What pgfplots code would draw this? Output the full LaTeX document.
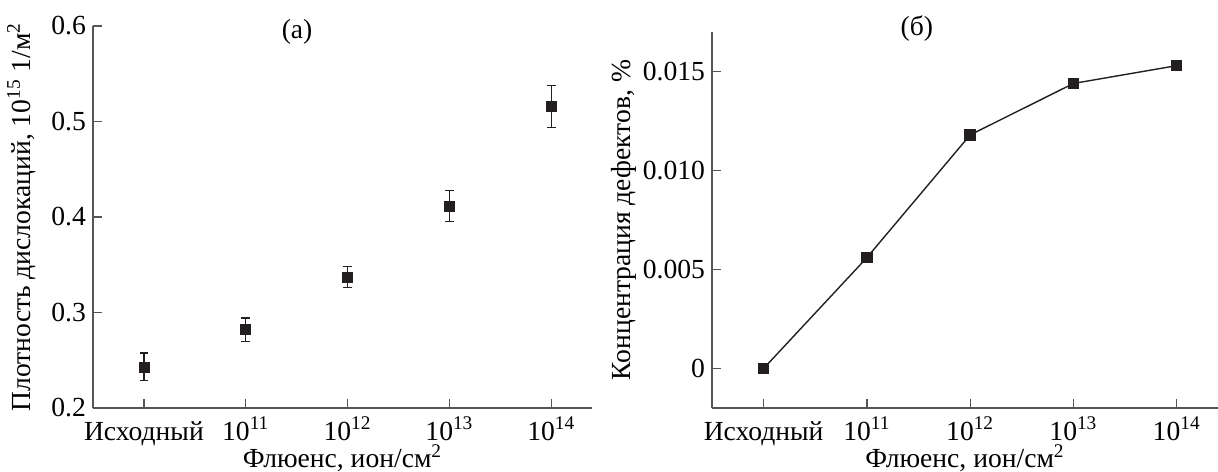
\documentclass[border=0pt]{standalone}
\usepackage{fontspec}
\setmainfont{Liberation Serif}
\usepackage{pgfplots}
\pgfplotsset{compat=1.18}
\definecolor{axgray}{HTML}{555555}
\definecolor{mk}{HTML}{231F20}
\pgfplotsset{
  mystyle/.style={
    scale only axis,
    anchor=south west,
    axis x line*=bottom,
    axis y line*=left,
    axis line style={draw=axgray, line width=0.7pt},
    tick align=inside,
    major tick length=4.5pt,
    tick style={draw=axgray, line width=0.6pt},
    xmin=-0.5, xmax=4.4,
    xtick={0,1,2,3,4},
    xticklabels={Исходный,10\textsuperscript{11},10\textsuperscript{12},10\textsuperscript{13},10\textsuperscript{14}},
    ticklabel style={font=\fontsize{13.8}{16}\selectfont, text=black},
    xticklabel style={anchor=base, inner sep=0pt, yshift=-16pt},
    label style={font=\fontsize{13.8}{16}\selectfont, text=black},
    xlabel={Флюенс, ион/см\textsuperscript{2}},
    xlabel style={at={(axis description cs:0.5,0)}, anchor=base, inner sep=0pt, yshift=-29.8pt},
    scaled y ticks=false,
    clip=false,
  }
}
\begin{document}
\begin{tikzpicture}
\path[use as bounding box] (0,0) rectangle (609pt,-235.5pt);
\begin{axis}[mystyle,
  at={(46.5pt,-204pt)}, width=249.5pt, height=191pt,
  ymin=0.2, ymax=0.6,
  ytick={0.2,0.3,0.4,0.5,0.6},
  yticklabels={0.2,0.3,0.4,0.5,0.6},
  ylabel={Плотность дислокаций, 10\textsuperscript{15} 1/м\textsuperscript{2}},
  ylabel style={yshift=1pt},
]
\addplot[only marks, mark=square*, mark size=2.5pt, color=mk,
  error bars/.cd, y dir=both, y explicit,
  error mark options={rotate=90, mark size=2.2pt, line width=0.6pt, color=mk},
  error bar style={line width=0.6pt, color=mk}]
  coordinates {
  (0,0.243) +- (0,0.0145)
  (1,0.282) +- (0,0.0122)
  (2,0.337) +- (0,0.011)
  (3,0.4115) +- (0,0.0165)
  (4,0.516) +- (0,0.022)
  };
\node[font=\fontsize{13.8}{16}\selectfont] at (rel axis cs:0.409,0.985) {(а)};
\end{axis}
\begin{axis}[mystyle,
  at={(356pt,-204pt)}, width=253pt, height=188pt,
  ymin=-0.002, ymax=0.017,
  ytick={0,0.005,0.01,0.015},
  yticklabels={0,0.005,0.010,0.015},
  ylabel={Концентрация дефектов, \%},
  ylabel style={yshift=-3.5pt},
]
\addplot[mark=square*, mark size=2.5pt, color=mk, line width=0.7pt]
  coordinates {(0,0) (1,0.0056) (2,0.0118) (3,0.0144) (4,0.0153)};
\node[font=\fontsize{13.8}{16}\selectfont] at (rel axis cs:0.405,1.008) {(б)};
\end{axis}
\end{tikzpicture}
\end{document}
